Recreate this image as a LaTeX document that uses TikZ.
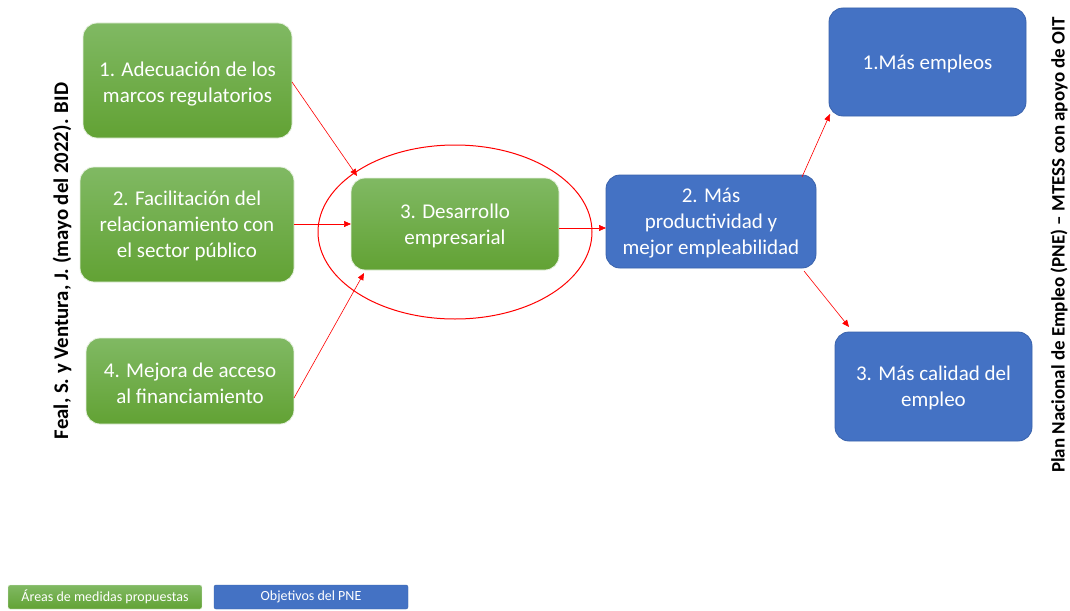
\documentclass[tikz,border=0pt]{standalone}
\usepackage{fontspec}
\setmainfont{Carlito}
\usetikzlibrary{arrows.meta,shapes.geometric}
\definecolor{gtop}{HTML}{80B963}
\definecolor{gbot}{HTML}{62A234}
\definecolor{pneblue}{HTML}{4472C4}
\definecolor{pneedge}{HTML}{3A63AC}
\begin{document}
\begin{tikzpicture}[x=1pt,y=-1pt,
  gbox/.style={rounded corners=14pt, top color=gtop, bottom color=gbot, draw=white!85!gbot, line width=0.8pt},
  bbox/.style={rounded corners=14pt, fill=pneblue, draw=pneedge, line width=0.8pt},
  btext/.style={text=white, align=center, font=\fontsize{21}{26}\selectfont},
  conn/.style={red, line width=0.6pt, -{Triangle[length=7pt,width=6pt]}},
  vtext/.style={rotate=90, font=\bfseries\fontsize{19}{22}\selectfont},
  ltext/.style={text=white, font=\fontsize{14}{16}\selectfont}
]
\useasboundingbox (0,0) rectangle (1070,610);
\fill[white] (0,0) rectangle (1070,610);
% green boxes
\path[gbox] (83,23) rectangle (292,138);
\node[btext] (b1) at (187.5,84) {1. Adecuación de los\\marcos regulatorios};
\coordinate (b1e) at (292,82);
\path[gbox] (80,167) rectangle (294,282);
\node[btext] (b2) at (187,226) {2. Facilitación del\\relacionamiento con\\el sector público};
\coordinate (b2e) at (294,224);
\path[gbox] (86,338) rectangle (294,424);
\node[btext] (b4) at (190,383) {4. Mejora de acceso\\al financiamiento};
\coordinate (b4e) at (294,398);
\path[gbox] (351,178) rectangle (559,270);
\node[btext] (b3) at (455,226) {3. Desarrollo\\empresarial};
% ellipse
\node[draw=red, line width=1pt, ellipse, minimum width=274pt, minimum height=174pt] (ell) at (455,232) {};
% blue boxes
\path[bbox] (606,175) rectangle (816,268);
\node[btext] (p2) at (711,223) {2. Más\\productividad y\\mejor empleabilidad};
\path[bbox] (829,8) rectangle (1026,116);
\node[btext] (p1) at (927.5,64) {1.Más empleos};
\path[bbox] (835,332) rectangle (1032,441);
\node[btext] (p3) at (933.5,388) {3. Más calidad del\\empleo};
% connector endpoints
\coordinate (b3tl) at (357,176);
\coordinate (b3l) at (351,224);
\coordinate (b3bl) at (364,273);
\coordinate (b3r) at (559,228);
\coordinate (p2l) at (606,228);
\coordinate (p2tr) at (802,177);
\coordinate (p1bl) at (830,114);
\coordinate (p2br) at (804,271);
\coordinate (p3tl) at (849,327);
% connectors
\draw[conn] (b1e) -- (b3tl);
\draw[conn] (b2e) -- (b3l);
\draw[conn] (b4e) -- (b3bl);
\draw[conn] (b3r) -- (p2l);
\draw[conn] (p2tr) -- (p1bl);
\draw[conn] (p2br) -- (p3tl);
% side texts
\node[vtext, font=\bfseries\fontsize{20.8}{24}\selectfont] (src) at (62,261) {Feal, S. y Ventura, J. (mayo del 2022). BID};
\node[vtext] (plan) at (1059,245) {Plan Nacional de Empleo (PNE) – MTESS con apoyo de OIT};
% legend
\path[rounded corners=2pt, top color=gtop, bottom color=gbot, draw=white!85!gbot] (8,585) rectangle (202,609);
\node[ltext] (lg) at (105,597) {Áreas de medidas propuestas};
\path[rounded corners=2pt, fill=pneblue, draw=pneedge] (214,585) rectangle (408,609);
\node[ltext] (lb) at (311,597) {Objetivos del PNE};
\end{tikzpicture}
\end{document}
